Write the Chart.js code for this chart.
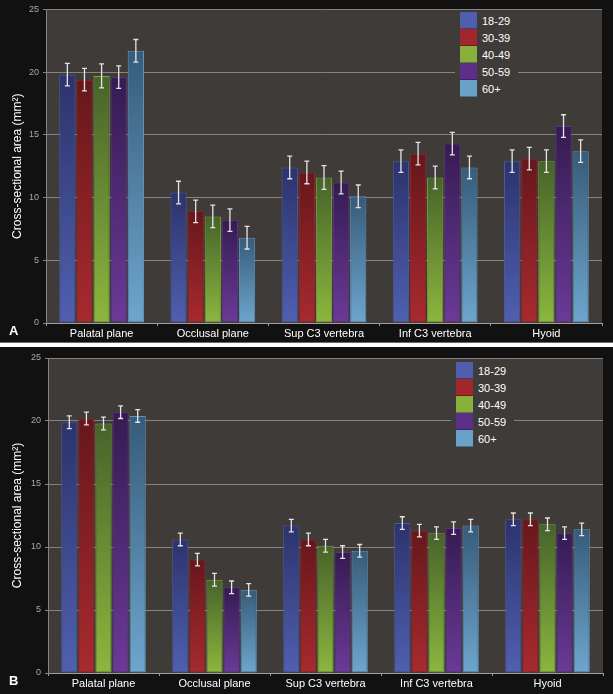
<!DOCTYPE html>
<html>
<head>
<meta charset="utf-8">
<script src="https://cdn.jsdelivr.net/npm/chart.js@4.4.1/dist/chart.umd.min.js"></script>
<style>
  html, body { margin: 0; padding: 0; background: #111; }
  #wrap { position: relative; width: 613px; height: 694px; background: #111; overflow: hidden;
          font-family: "Liberation Sans", Arial, sans-serif; }
  canvas { position: absolute; left: 0; display: block; }
  #chartA { top: 0; }
  #chartB { top: 347px; }
  #sepGray { position: absolute; left: 0; top: 342px; width: 613px; height: 1px; background: #6c6a68; }
  #sepWhite { position: absolute; left: 0; top: 343px; width: 613px; height: 4px; background: #fff; }
  .letter { position: absolute; left: 9px; color: #fff; font: bold 13px "Liberation Sans", Arial, sans-serif; line-height: 13px; }
  .legend { position: absolute; background: #3e3b39; padding: 0 8px 3px 5px; }
  .legend .row { display: flex; align-items: center; height: 17px; }
  .legend .sw { width: 17px; height: 17px; box-sizing: border-box; border-bottom: 1px solid rgba(0,0,0,0.3); margin-right: 5px; }
  .legend span { color: #fff; font: 11px "Liberation Sans", Arial, sans-serif; }
</style>
</head>
<body>
<div id="wrap">
  <canvas id="chartA" width="613" height="342"></canvas>
  <div id="sepGray"></div>
  <div id="sepWhite"></div>
  <canvas id="chartB" width="613" height="347"></canvas>
  <div class="letter" style="top:324px">A</div>
  <div class="letter" style="top:674px">B</div>
  <div class="legend" id="legendA" style="left:455px; top:12px"></div>
  <div class="legend" id="legendB" style="left:451px; top:362px"></div>
</div>

<script>
// categories and age groups
const categories = ['Palatal plane', 'Occlusal plane', 'Sup C3 vertebra', 'Inf C3 vertebra', 'Hyoid'];
const ageGroups = ['18-29', '30-39', '40-49', '50-59', '60+'];

// panel A means (mm²), one array per age group
const a18 = [19.8, 10.4, 12.4, 12.9, 12.9];
const a30 = [19.4, 8.9, 12.0, 13.5, 13.1];
const a40 = [19.7, 8.5, 11.6, 11.6, 12.9];
const a50 = [19.6, 8.2, 11.2, 14.3, 15.7];
const a60 = [21.7, 6.8, 10.1, 12.4, 13.7];
// panel A error bars
const aErr18 = [0.9, 0.9, 0.9, 0.9, 0.9];
const aErr30 = [0.9, 0.9, 0.9, 0.9, 0.9];
const aErr40 = [0.95, 0.9, 0.95, 0.9, 0.9];
const aErr50 = [0.9, 0.9, 0.9, 0.9, 0.9];
const aErr60 = [0.9, 0.9, 0.9, 0.9, 0.9];

// panel B means
const b18 = [19.9, 10.6, 11.7, 11.9, 12.2];
const b30 = [20.2, 9.0, 10.6, 11.3, 12.2];
const b40 = [19.8, 7.4, 10.1, 11.1, 11.8];
const b50 = [20.7, 6.8, 9.6, 11.5, 11.1];
const b60 = [20.4, 6.6, 9.7, 11.7, 11.4];
// panel B error bars
const bErr18 = [0.5, 0.5, 0.5, 0.5, 0.5];
const bErr30 = [0.5, 0.5, 0.5, 0.5, 0.5];
const bErr40 = [0.5, 0.5, 0.5, 0.5, 0.5];
const bErr50 = [0.5, 0.5, 0.5, 0.5, 0.5];
const bErr60 = [0.5, 0.5, 0.5, 0.5, 0.5];

const yTicks = [0, 5, 10, 15, 20, 25];

// colours: [top of bar, bottom of bar, border, legend swatch]
const palette = [
  ['#2c336c', '#5060b0', '#4a58a2', '#4f5ead'],
  ['#66171b', '#a82a2f', '#962529', '#a1272c'],
  ['#46632a', '#8cb73e', '#7da53a', '#88b13c'],
  ['#351b52', '#6b3a98', '#5d318a', '#5d2f88'],
  ['#375b79', '#6ea6ce', '#5f94bb', '#6aa1c9']
];

Chart.defaults.font.family = '"Liberation Sans", Arial, sans-serif';
Chart.defaults.animation = false;

function barGradient(k) {
  return (ctx) => {
    const chart = ctx.chart;
    if (!chart.chartArea || ctx.type !== 'data') return palette[k][1];
    const ys = chart.scales.y;
    const top = ys.getPixelForValue(ctx.raw);
    const base = ys.getPixelForValue(0);
    const g = chart.ctx.createLinearGradient(0, top, 0, base);
    g.addColorStop(0, palette[k][0]);
    g.addColorStop(1, palette[k][1]);
    return g;
  };
}

const plotBg = {
  id: 'plotBg',
  beforeDraw(chart) {
    const { ctx, chartArea: a } = chart;
    ctx.save();
    ctx.fillStyle = '#3e3b39';
    ctx.fillRect(a.left, a.top, a.right - a.left, a.bottom - a.top);
    ctx.restore();
  }
};

const errorBars = {
  id: 'errorBars',
  afterDatasetsDraw(chart) {
    const { ctx } = chart;
    const ys = chart.scales.y;
    ctx.save();
    ctx.strokeStyle = '#e4e4e4';
    ctx.lineWidth = 1.3;
    chart.data.datasets.forEach((ds, i) => {
      const meta = chart.getDatasetMeta(i);
      meta.data.forEach((bar, j) => {
        const v = ds.data[j], e = ds.errors[j];
        const y1 = ys.getPixelForValue(v + e);
        const y2 = ys.getPixelForValue(v - e);
        const x = bar.x;
        ctx.beginPath();
        ctx.moveTo(x, y1); ctx.lineTo(x, y2);
        ctx.moveTo(x - 2.5, y1); ctx.lineTo(x + 2.5, y1);
        ctx.moveTo(x - 2.5, y2); ctx.lineTo(x + 2.5, y2);
        ctx.stroke();
      });
    });
    ctx.restore();
  }
};

function makeChart(id, series, errs, dims) {
  const datasets = series.map((data, k) => ({
    label: ageGroups[k],
    data: data,
    errors: errs[k],
    backgroundColor: barGradient(k),
    borderColor: palette[k][2],
    borderWidth: 1,
    borderSkipped: false,
    categoryPercentage: 0.77,
    barPercentage: 0.95
  }));
  return new Chart(document.getElementById(id), {
    type: 'bar',
    data: { labels: categories, datasets },
    options: {
      responsive: false,
      layout: { padding: { left: 0, right: dims.right, top: dims.top, bottom: 0 } },
      plugins: { legend: { display: false }, tooltip: { enabled: false } },
      scales: {
        x: {
          ticks: { color: '#ffffff', font: { size: 11 }, padding: 1, maxRotation: 0 },
          grid: { display: true, drawOnChartArea: false, drawTicks: true, tickLength: 3, tickColor: '#a09e9c', offset: true },
          border: { color: '#a09e9c' },
          afterFit(s) { s.height = dims.xHeight; }
        },
        y: {
          min: 0, max: 25,
          afterBuildTicks(s) { s.ticks = yTicks.map(v => ({ value: v })); },
          ticks: { color: '#a9a9a9', font: { size: 9 }, padding: 4 },
          grid: { color: '#85827f', lineWidth: 1, tickLength: 3, tickColor: '#85827f' },
          border: { color: '#85827f' },
          title: { display: true, text: 'Cross-sectional area (mm²)', color: '#ffffff', font: { size: 12 }, padding: { top: 10, bottom: 0 } },
          afterFit(s) { s.width = dims.yWidth; }
        }
      }
    },
    plugins: [plotBg, errorBars]
  });
}

function buildLegend(chart, el) {
  chart.data.datasets.forEach((ds, k) => {
    const row = document.createElement('div');
    row.className = 'row';
    const sw = document.createElement('div');
    sw.className = 'sw';
    sw.style.background = palette[k][3];
    const t = document.createElement('span');
    t.textContent = ds.label;
    row.appendChild(sw);
    row.appendChild(t);
    el.appendChild(row);
  });
}

const chartA = makeChart('chartA', [a18, a30, a40, a50, a60], [aErr18, aErr30, aErr40, aErr50, aErr60],
  { right: 11, top: 8, xHeight: 19, yWidth: 46 });
const chartB = makeChart('chartB', [b18, b30, b40, b50, b60], [bErr18, bErr30, bErr40, bErr50, bErr60],
  { right: 10, top: 11, xHeight: 21, yWidth: 48 });

buildLegend(chartA, document.getElementById('legendA'));
buildLegend(chartB, document.getElementById('legendB'));
</script>
</body>
</html>
